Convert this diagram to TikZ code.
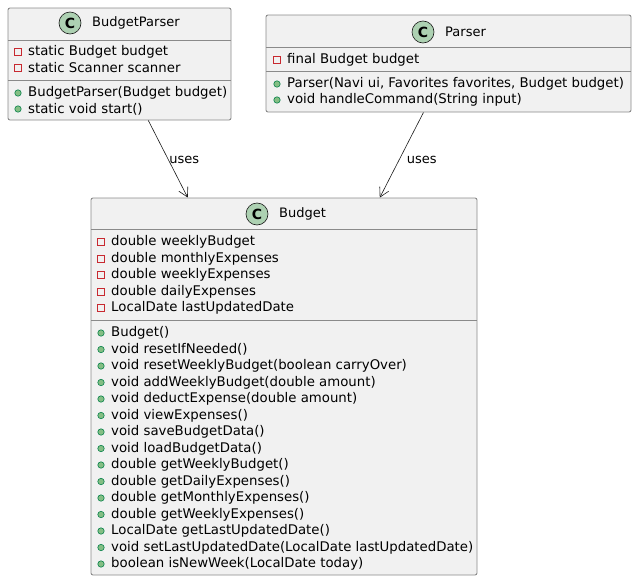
\documentclass[tikz,border=0pt]{standalone}
\usepackage{fontspec}
\setmainfont{DejaVu Sans}
\usetikzlibrary{arrows.meta}
\definecolor{boxfill}{HTML}{F1F1F1}
\definecolor{boxline}{HTML}{8A8A8A}
\definecolor{arrowline}{HTML}{181818}
\definecolor{cfill}{HTML}{ADD1B2}
\definecolor{privred}{HTML}{C82930}
\definecolor{pubfill}{HTML}{84BE84}
\definecolor{publine}{HTML}{038048}
\tikzset{
  classbox/.style={draw=boxline, fill=boxfill, line width=0.9pt, rounded corners=2pt, inner sep=0pt},
  member/.style={anchor=west, inner sep=0pt, font=\fontsize{13.3}{15}\selectfont},
  title/.style={anchor=west, inner sep=0pt, font=\fontsize{13}{15}\selectfont},
  cicon/.style={circle, draw=arrowline, fill=cfill, line width=0.6pt, minimum size=22pt, inner sep=0pt, font=\fontsize{14}{16}\selectfont\bfseries},
  sep/.style={draw=boxline, line width=0.9pt},
  uses/.style={-{Straight Barb[length=9pt,width=10pt]}, draw=arrowline, line width=0.6pt},
  lbl/.style={anchor=west, inner sep=0pt, font=\fontsize{13}{15}\selectfont}
}
\newcommand\umlpriv[4]{%
  \draw[privred, line width=0.7pt] (#2-3.5,#3-3.5) rectangle (#2+3.5,#3+3.5);
  \node[member] (#1) at (#2+10,#3) {#4};}
\newcommand\umlpub[4]{%
  \draw[publine, fill=pubfill, line width=0.6pt] (#2,#3) circle (3.2);
  \node[member] (#1) at (#2+10,#3) {#4};}
\begin{document}
\begin{tikzpicture}[x=1pt,y=-1pt]
\useasboundingbox (0,0) rectangle (637,581);
% BudgetParser
\node[classbox, minimum width=223pt, minimum height=112pt] (bp) at (119.5,64) {};
\node[cicon] (bpc) at (70,23) {C};
\node[title] (bpt) at (92,23) {BudgetParser};
\draw[sep] (8,40) -- (231,40);
\draw[sep] (8,80) -- (231,80);
\umlpriv{bpa1}{18}{52}{static Budget budget}
\umlpriv{bpa2}{18}{68}{static Scanner scanner}
\umlpub{bpm1}{18}{93}{BudgetParser(Budget budget)}
\umlpub{bpm2}{18}{109}{static void start()}
% Parser
\node[classbox, minimum width=365pt, minimum height=97pt] (p) at (448.5,63.5) {};
\node[cicon] (pc) at (423,32) {C};
\node[title] (pt) at (445,32) {Parser};
\draw[sep] (266,47) -- (631,47);
\draw[sep] (266,71) -- (631,71);
\umlpriv{pa1}{277}{60}{final Budget budget}
\umlpub{pm1}{277}{84}{Parser(Navi ui, Favorites favorites, Budget budget)}
\umlpub{pm2}{277}{100}{void handleCommand(String input)}
% Budget
\node[classbox, minimum width=386pt, minimum height=377pt] (b) at (284,386.5) {};
\node[cicon] (bc) at (257,214) {C};
\node[title] (bt) at (279,214) {Budget};
\draw[sep] (91,229) -- (477,229);
\draw[sep] (91,320) -- (477,320);
\umlpriv{ba1}{101}{242}{double weeklyBudget}
\umlpriv{ba2}{101}{258.5}{double monthlyExpenses}
\umlpriv{ba3}{101}{275}{double weeklyExpenses}
\umlpriv{ba4}{101}{291.5}{double dailyExpenses}
\umlpriv{ba5}{101}{308}{LocalDate lastUpdatedDate}
\umlpub{bm1}{101}{333}{Budget()}
\umlpub{bm2}{101}{349.5}{void resetIfNeeded()}
\umlpub{bm3}{101}{366}{void resetWeeklyBudget(boolean carryOver)}
\umlpub{bm4}{101}{382.5}{void addWeeklyBudget(double amount)}
\umlpub{bm5}{101}{399}{void deductExpense(double amount)}
\umlpub{bm6}{101}{415.5}{void viewExpenses()}
\umlpub{bm7}{101}{432}{void saveBudgetData()}
\umlpub{bm8}{101}{448.5}{void loadBudgetData()}
\umlpub{bm9}{101}{465}{double getWeeklyBudget()}
\umlpub{bm10}{101}{481.5}{double getDailyExpenses()}
\umlpub{bm11}{101}{498}{double getMonthlyExpenses()}
\umlpub{bm12}{101}{514.5}{double getWeeklyExpenses()}
\umlpub{bm13}{101}{531}{LocalDate getLastUpdatedDate()}
\umlpub{bm14}{101}{547.5}{void setLastUpdatedDate(LocalDate lastUpdatedDate)}
\umlpub{bm15}{101}{564}{boolean isNewWeek(LocalDate today)}
% connectors
\draw[uses] (bp) -- node[lbl, pos=0.5, xshift=1pt, yshift=-1pt] (l1) {uses} (b);
\draw[uses] (p) -- node[lbl, pos=0.5, xshift=5pt, yshift=-5pt] (l2) {uses} (b);
\end{tikzpicture}
\end{document}
